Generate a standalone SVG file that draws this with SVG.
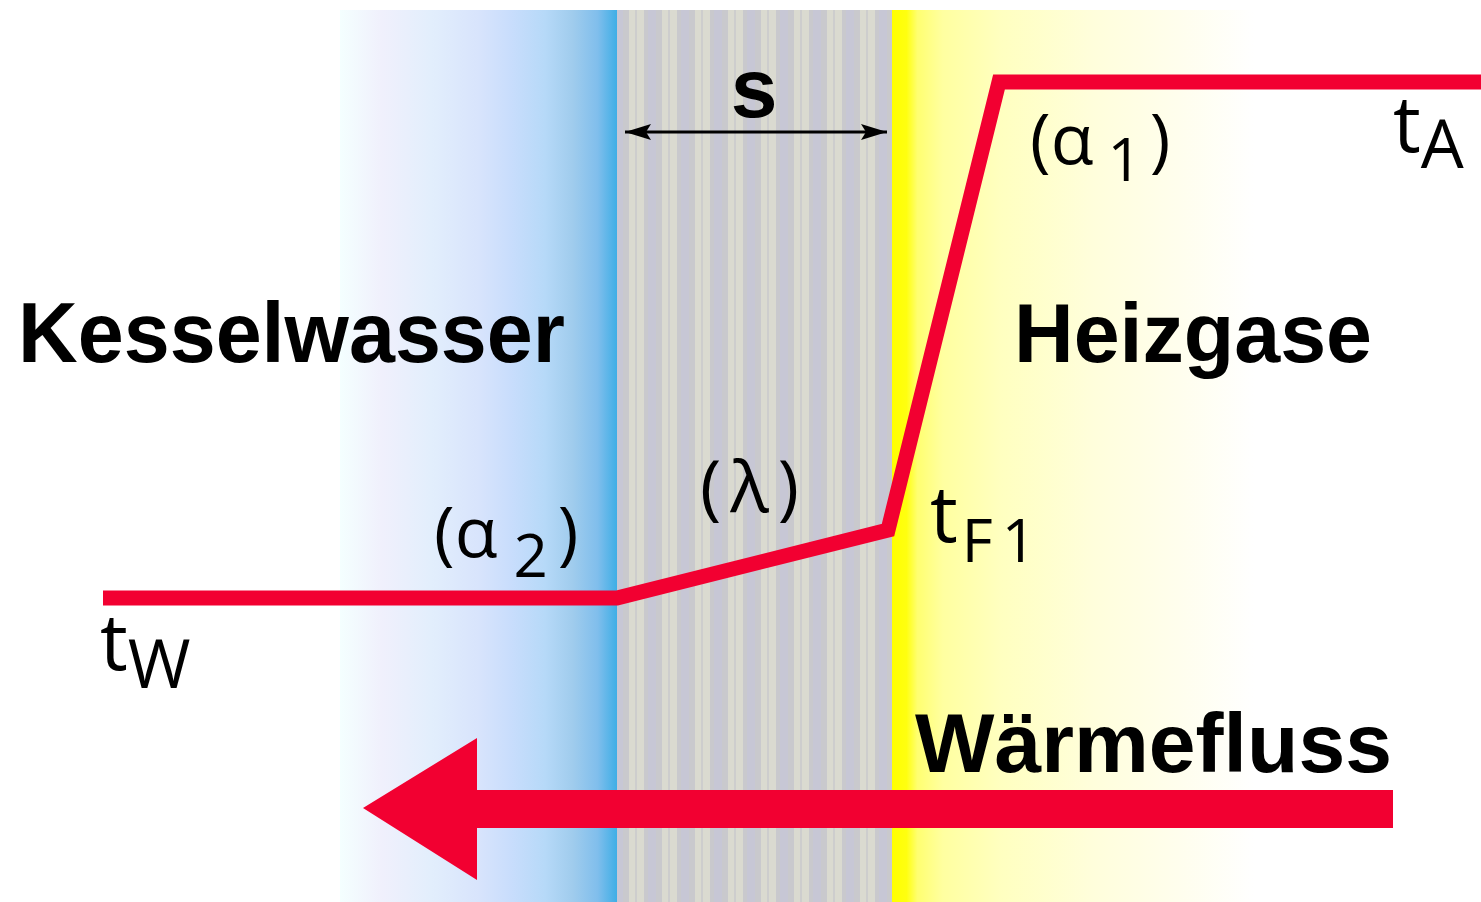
<svg xmlns="http://www.w3.org/2000/svg" width="1481" height="902" viewBox="0 0 1481 902">
  <style>
    .bold { font-family: "Liberation Sans", Arial, sans-serif; font-weight: bold; fill: #000; }
    .lbl { font-family: "Open Sans", "DejaVu Sans", sans-serif; fill: #000; }
    .red { fill: none; stroke: #f20031; stroke-width: 15; stroke-linejoin: miter; }
  </style>
  <defs>
    <linearGradient id="blue" x1="340" y1="0" x2="617" y2="0" gradientUnits="userSpaceOnUse">
      <stop offset="0" stop-color="#f4ffff"/>
      <stop offset="0.15" stop-color="#f0f0fc"/>
      <stop offset="0.33" stop-color="#e2eefc"/>
      <stop offset="0.5" stop-color="#d8e4fc"/>
      <stop offset="0.62" stop-color="#c8ddfc"/>
      <stop offset="0.74" stop-color="#b6d9f8"/>
      <stop offset="0.84" stop-color="#a0cced"/>
      <stop offset="0.93" stop-color="#80beec"/>
      <stop offset="1" stop-color="#3eaee6"/>
    </linearGradient>
    <linearGradient id="yellow" x1="892" y1="0" x2="1255" y2="0" gradientUnits="userSpaceOnUse">
      <stop offset="0" stop-color="#ffff00"/>
      <stop offset="0.04" stop-color="#ffff10"/>
      <stop offset="0.07" stop-color="#ffff70"/>
      <stop offset="0.14" stop-color="#ffffa0"/>
      <stop offset="0.3" stop-color="#ffffc0"/>
      <stop offset="0.55" stop-color="#fffedb"/>
      <stop offset="0.8" stop-color="#fffeee"/>
      <stop offset="1" stop-color="#ffffff"/>
    </linearGradient>
    <pattern id="stripes" x="629" y="0" width="33" height="902" patternUnits="userSpaceOnUse">
      <rect x="0" y="0" width="33" height="902" fill="#c9c9cd"/>
      <rect x="0" y="0" width="15" height="902" fill="#dadad0"/>
      <rect x="6" y="0" width="2" height="902" fill="#cdcdcd"/>
      <rect x="19" y="0" width="8" height="902" fill="#c7c7d5"/>
    </pattern>
    <marker id="ah" viewBox="0 0 26 16" refX="26" refY="8" markerWidth="26" markerHeight="16" orient="auto-start-reverse" markerUnits="userSpaceOnUse">
      <path d="M0,0 L26,8 L0,16 L5,8 z" fill="#000"/>
    </marker>
  </defs>

  <rect width="1481" height="902" fill="#ffffff"/>

  <g id="zones">
    <rect x="340" y="10" width="277" height="892" fill="url(#blue)"/>
    <rect x="617" y="10" width="275" height="892" fill="url(#stripes)"/>
    <rect x="892" y="10" width="363" height="892" fill="url(#yellow)"/>
  </g>

  <g id="connectors">
    <polyline class="red" points="103,598 617,598 888,530 999,82 1481,82"/>
    <line x1="625" y1="132" x2="887" y2="132" stroke="#000" stroke-width="3" marker-start="url(#ah)" marker-end="url(#ah)"/>
    <polygon points="363,808 477,738 477,790 1393,790 1393,828 477,828 477,880" fill="#f20031"/>
  </g>

  <g id="label-s"><text class="bold" x="754" y="117" font-size="84" text-anchor="middle">s</text></g>
  <g id="label-kesselwasser"><text class="bold" x="18" y="362" font-size="85" textLength="547" lengthAdjust="spacingAndGlyphs">Kesselwasser</text></g>
  <g id="label-heizgase"><text class="bold" x="1014" y="362" font-size="84" textLength="358" lengthAdjust="spacingAndGlyphs">Heizgase</text></g>
  <g id="label-waermefluss"><text class="bold" x="915" y="772" font-size="84" textLength="477" lengthAdjust="spacingAndGlyphs">Wärmefluss</text></g>

  <g id="label-alpha1"><text class="lbl" x="1030" y="164" font-size="70">(α<tspan font-size="60" dx="14" dy="17">1</tspan><tspan dx="8" dy="-17">)</tspan></text></g>
  <g id="label-tA"><text class="lbl" x="1393" y="152" font-size="78">t<tspan font-size="68" dy="16">A</tspan></text></g>
  <g id="label-lambda"><text class="lbl" x="700" y="512" font-size="72" letter-spacing="9">(λ)</text></g>
  <g id="label-tF1"><text class="lbl" x="930" y="542" font-size="78">t<tspan font-size="60" dx="4" dy="20" letter-spacing="9">F1</tspan></text></g>
  <g id="label-alpha2"><text class="lbl" x="434" y="557" font-size="70">(α<tspan font-size="60" dx="16" dy="20">2</tspan><tspan dx="10" dy="-20">)</tspan></text></g>
  <g id="label-tW"><text class="lbl" x="100" y="670" font-size="78">t<tspan font-size="68" dy="18">W</tspan></text></g>
</svg>
